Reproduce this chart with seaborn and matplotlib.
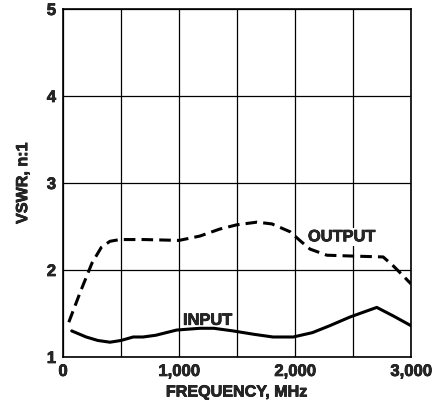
import pandas as pd
import seaborn as sns
import matplotlib.pyplot as plt
import matplotlib.patheffects as pe

# 讀圖估計的數據
freq_out = [50, 150, 250, 330, 405, 490, 700, 1000, 1180, 1350, 1500, 1672, 1800, 1957, 2050, 2130, 2275, 2500, 2760, 2845, 2920, 3000]
vswr_out = [1.40, 1.75, 2.08, 2.26, 2.33, 2.35, 2.35, 2.34, 2.39, 2.47, 2.52, 2.55, 2.53, 2.44, 2.33, 2.24, 2.17, 2.16, 2.15, 2.05, 1.95, 1.84]

freq_in = [75, 200, 300, 405, 500, 605, 690, 800, 980, 1180, 1300, 1465, 1650, 1810, 1985, 2150, 2300, 2475, 2600, 2705, 2850, 3000]
vswr_in = [1.30, 1.23, 1.19, 1.17, 1.19, 1.23, 1.23, 1.25, 1.31, 1.33, 1.33, 1.30, 1.26, 1.23, 1.23, 1.28, 1.36, 1.46, 1.52, 1.57, 1.47, 1.36]

df_out = pd.DataFrame({'freq': freq_out, 'vswr': vswr_out})
df_in = pd.DataFrame({'freq': freq_in, 'vswr': vswr_in})

sns.set_style('white')
plt.rcParams['font.family'] = ['Liberation Sans', 'DejaVu Sans']
plt.rcParams['font.weight'] = 'bold'

# 字體加粗一點
heavy = [pe.withStroke(linewidth=0.5, foreground='black')]

fig = plt.figure(figsize=(4.37, 4.02), dpi=100)
ax = fig.add_axes([63 / 437, 44 / 402, 348 / 437, 348 / 402])

sns.lineplot(data=df_out, x='freq', y='vswr', ax=ax, color='black', linewidth=2.2,
             dashes=False, linestyle=(0, (3.8, 2)))
sns.lineplot(data=df_in, x='freq', y='vswr', ax=ax, color='black', linewidth=2.2)

ax.set_xlim(0, 3000)
ax.set_ylim(1, 5)
ax.set_xticks([0, 500, 1000, 1500, 2000, 2500, 3000])
ax.set_xticklabels(['0', '', '1,000', '', '2,000', '', '3,000'])
ax.set_yticks([1, 2, 3, 4, 5])
ax.set_yticklabels(['1', '2', '3', '4', '5'])
ax.grid(True, color='black', linewidth=0.9)
ax.tick_params(length=0, labelsize=12, pad=5)
for lbl in ax.get_xticklabels() + ax.get_yticklabels():
    lbl.set_fontweight('bold')
    lbl.set_path_effects(heavy)
for s in ax.spines.values():
    s.set_color('black')
    s.set_linewidth(1.2)

ax.set_xlabel('FREQUENCY, MHz', fontsize=11.6, fontweight='bold', labelpad=4, path_effects=heavy)
ax.set_ylabel('VSWR, n:1', fontsize=11.6, fontweight='bold', labelpad=12, path_effects=heavy)

ax.text(2112, 2.33, 'OUTPUT', fontsize=11.8, fontweight='bold', ha='left', va='baseline',
        bbox=dict(facecolor='white', edgecolor='none', pad=1), path_effects=heavy)
ax.text(1035, 1.37, 'INPUT', fontsize=11.8, fontweight='bold', ha='left', va='baseline',
        path_effects=heavy)

plt.savefig('out.png', dpi=100)
